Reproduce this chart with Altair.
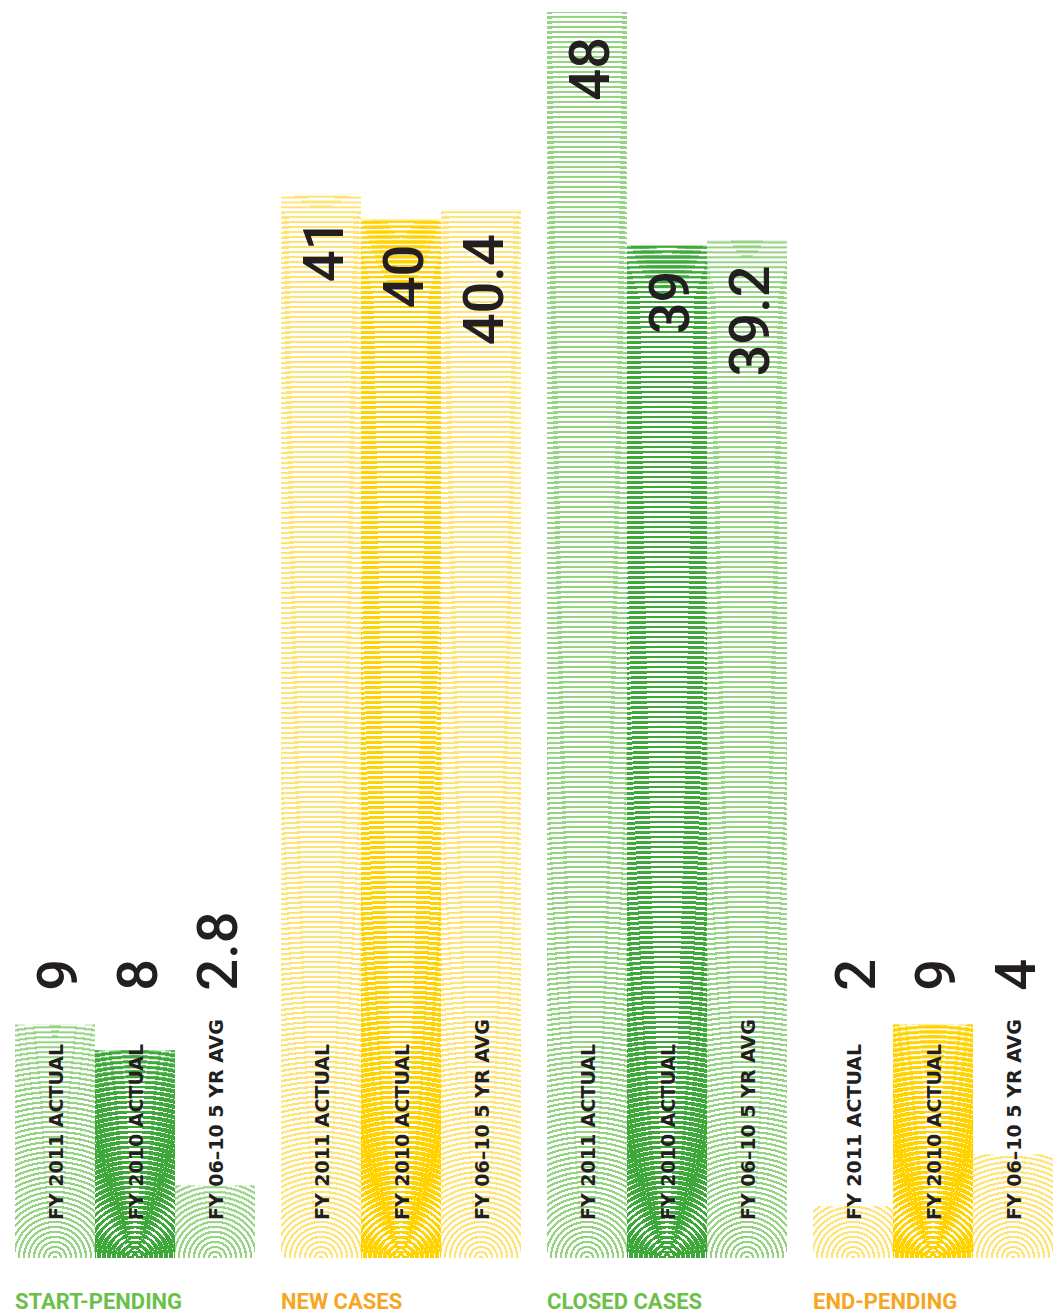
import math
import altair as alt
import pandas as pd

# ---- data -------------------------------------------------------------
groups = ["START-PENDING", "NEW CASES", "CLOSED CASES", "END-PENDING"]
series = ["FY 2011 ACTUAL", "FY 2010 ACTUAL", "FY 06–10 5 YR AVG"]

start_pending = [9, 8, 2.8]
new_cases = [41, 40, 40.4]
closed_cases = [48, 39, 39.2]
end_pending = [2, 9, 4]

group_values = [start_pending, new_cases, closed_cases, end_pending]
group_hue = ["green", "yellow", "green", "yellow"]

# ---- styling ----------------------------------------------------------
PLOT_W, PLOT_H = 1038, 1246
Y_MAX = 48
GROUP_GAP = 26 / 266            # inner padding between the four groups
INK = "#231f20"
HEADLINE_COLOR = {"green": "#6cc04a", "yellow": "#f6a623"}
RING_LIGHT = {"green": "#93d381", "yellow": "#ffe475"}
RING_DARK = {"green": "#3fa83a", "yellow": "#ffd200"}
NUM_FONT = "Roboto"
TAG_FONT = "DejaVu Sans"
SEG_PX = 80                     # bars are filled in square tiles of rings
CLEAR = "rgba(255,255,255,0)"

rows = []
for gi, (g, vals) in enumerate(zip(groups, group_values)):
    for si, (s, v) in enumerate(zip(series, vals)):
        rows.append({"gi": gi, "si": si, "group": g, "series": s,
                     "value": v, "label": f"{v:g}", "hue": group_hue[gi]})
df = pd.DataFrame(rows)
heads = pd.DataFrame({"group": groups, "hue": group_hue})

step = PLOT_W / (len(groups) - GROUP_GAP)
band = step * (1 - GROUP_GAP)
bar_w = band / len(series)
px_per_unit = PLOT_H / Y_MAX
seg_units = SEG_PX / px_per_unit

y_scale = alt.Scale(domain=[0, Y_MAX], nice=False)
X = alt.X("group:N", sort=groups, axis=None,
          scale=alt.Scale(domain=groups, paddingInner=GROUP_GAP, paddingOuter=0))
XO = alt.XOffset("series:N", sort=series,
                 scale=alt.Scale(domain=series, paddingInner=0, paddingOuter=0))
Y = alt.Y("value:Q", axis=None, scale=y_scale)


def ring_tile(y0, hs, w, color, lw=2.2, period=5.0, shift=0.0, phase=0.0):
    """Radial fill for one tile of a bar: rings centred on the bar's base."""
    s = max(w, hs)
    cx = 0.5 + shift / s
    cy = ((s - hs) / 2 + hs + y0) / s
    r_lo = y0
    r_hi = math.hypot(y0 + hs, w / 2 + abs(shift)) + 1
    span = r_hi - r_lo
    stops = [alt.GradientStop(color=CLEAR, offset=0)]
    k = max(0, int((r_lo - phase) // period) - 1)
    while True:
        a = k * period + phase
        if a >= r_hi:
            break
        b = a + lw
        a2, b2 = max(a, r_lo), min(b, r_hi)
        if b2 > a2:
            oa, ob = round((a2 - r_lo) / span, 5), round((b2 - r_lo) / span, 5)
            stops += [alt.GradientStop(color=CLEAR, offset=oa),
                      alt.GradientStop(color=color, offset=oa),
                      alt.GradientStop(color=color, offset=ob),
                      alt.GradientStop(color=CLEAR, offset=ob)]
        k += 1
    stops.append(alt.GradientStop(color=CLEAR, offset=1))
    return alt.RadialGradient(gradient="radial", stops=stops,
                              x1=cx, y1=cy, x2=cx, y2=cy,
                              r1=r_lo / s, r2=r_hi / s)


layers = []
for r in rows:
    h_px = r["value"] * px_per_unit
    sel = f"datum.gi == {r['gi']} && datum.si == {r['si']}"
    if r["si"] == 1:
        # the middle bar of each group carries two interleaved ring sets
        ring_sets = [dict(color=RING_DARK[r["hue"]], lw=2.4, shift=-4),
                     dict(color=RING_DARK[r["hue"]], lw=2.4, shift=4)]
    else:
        ring_sets = [dict(color=RING_LIGHT[r["hue"]], lw=2.2)]
    n_tiles = math.ceil(h_px / SEG_PX - 1e-6)
    for k in range(n_tiles):
        y0 = k * SEG_PX
        hs = min(SEG_PX, h_px - y0)
        for rs in ring_sets:
            layers.append(
                alt.Chart(df).transform_filter(sel)
                .transform_calculate(
                    lo=f"{k} * {seg_units}",
                    hi=f"min(datum.value, {k + 1} * {seg_units})")
                .mark_bar(fill=ring_tile(y0, hs, bar_w, **rs))
                .encode(x=X, xOffset=XO,
                        y=alt.Y("lo:Q", axis=None, scale=y_scale), y2="hi:Q")
            )

# value labels: inside the top of tall bars, on a common line above short ones
short_base = max(v for vals in group_values for v in vals if v < 20) + 1.3

tall_nums = (
    alt.Chart(df).transform_filter("datum.value > 20")
    .mark_text(angle=270, align="right", baseline="alphabetic", dx=-25, dy=22,
               font=NUM_FONT, fontWeight=500, fontSize=56, color=INK)
    .encode(x=X, xOffset=XO, y=Y, text="label:N")
)
short_nums = (
    alt.Chart(df).transform_filter("datum.value <= 20")
    .mark_text(angle=270, align="left", baseline="alphabetic", dy=22,
               font=NUM_FONT, fontWeight=500, fontSize=56, color=INK)
    .encode(x=X, xOffset=XO, y=alt.datum(short_base), text="label:N")
)

tags = (
    alt.Chart(df)
    .mark_text(angle=270, align="left", baseline="alphabetic", dx=38, dy=8,
               font=TAG_FONT, fontWeight="bold", fontSize=19, color=INK)
    .encode(x=X, xOffset=XO, y=alt.datum(0), text="series:N")
)

headlines = (
    alt.Chart(heads)
    .mark_text(align="left", baseline="alphabetic", dx=-band / 2,
               dy=51, font=NUM_FONT, fontWeight="bold", fontSize=22)
    .encode(
        x=X, y=alt.datum(0), text="group:N",
        color=alt.Color("group:N", legend=None,
                        scale=alt.Scale(domain=groups,
                                        range=[HEADLINE_COLOR[h] for h in group_hue])),
    )
)

chart = (
    alt.layer(*layers, tall_nums, short_nums, tags, headlines)
    .properties(width=PLOT_W, height=PLOT_H, background="white",
                padding={"left": 15, "top": 12, "right": 0, "bottom": 0})
    .configure_view(strokeWidth=0)
)

chart.save("out.html", embed_options={"renderer": "svg", "actions": False})
